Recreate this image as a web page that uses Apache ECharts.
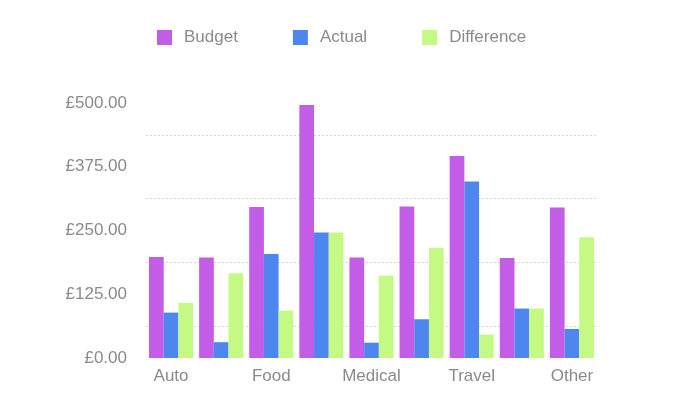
<!DOCTYPE html>
<html>
<head>
<meta charset="utf-8">
<script src="https://cdn.jsdelivr.net/npm/echarts@6/dist/echarts.min.js"></script>
<style>
html, body { margin: 0; padding: 0; background: #fff; }
#chart { width: 681px; height: 407px; }
</style>
</head>
<body>
<div id="chart"></div>
<script>
// budget vs actual spending
var categories = ["Auto", "Clothing", "Food", "Home", "Medical", "Personal", "Travel", "Utilities", "Other"];
var budget = [198, 197, 296, 496, 197, 297, 396, 196, 295];
var actual = [89, 31, 204, 246, 30, 76, 346, 97, 57];
var difference = [108, 166, 93, 246, 162, 216, 46, 97, 237];
var yMax = 500;
var yStep = 62.5;     // half of the labelled step, grid lines fall between labels

(function(){
    var myChart = echarts.init(document.getElementById("chart"));
    var font = "'Liberation Sans', Arial, sans-serif";
    var textColor = '#8a8a8a';
    var option = {
        backgroundColor: '#fff',
        color: ['#c35ce6', '#4c86ee', '#c4fa84'],
        textStyle: { fontFamily: font },
        legend: {
            left: 152,
            top: 24,
            itemWidth: 15,
            itemHeight: 15,
            itemGap: 55,
            icon: 'rect',
            textStyle: { fontSize: 17, color: textColor, fontFamily: font, padding: [0, 0, 0, 7] },
            data: ['Budget', 'Actual', 'Difference']
        },
        grid: {
            left: 146,
            right: 84,
            top: 103,
            bottom: 49
        },
        xAxis: {
            type: 'category',
            data: categories,
            axisLine: { show: false },
            axisTick: { show: false },
            axisLabel: {
                interval: 1,
                margin: 10,
                fontSize: 17,
                color: textColor,
                fontFamily: font
            }
        },
        yAxis: {
            type: 'value',
            min: 0,
            max: yMax,
            interval: yStep,
            axisLine: { show: false },
            axisTick: { show: false },
            axisLabel: {
                margin: 19,
                fontSize: 17,
                color: textColor,
                fontFamily: font,
                formatter: function (v) {
                    return v % 125 === 0 ? '£' + v.toFixed(2) : '';
                }
            },
            splitLine: {
                show: true,
                lineStyle: {
                    color: ['rgba(0,0,0,0)', '#d6d6d6'],
                    type: [2, 2],
                    width: 1
                }
            }
        },
        series: [{
            name: 'Budget',
            type: 'bar',
            data: budget,
            barGap: 0,
            barCategoryGap: '12%'
        }, {
            name: 'Actual',
            type: 'bar',
            data: actual,
            barGap: 0,
            barCategoryGap: '12%'
        }, {
            name: 'Difference',
            type: 'bar',
            data: difference,
            barGap: 0,
            barCategoryGap: '12%'
        }]
    };
    myChart.setOption(option);
    window.addEventListener('resize', function() {
        myChart.resize();
    })
})();
</script>
</body>
</html>
